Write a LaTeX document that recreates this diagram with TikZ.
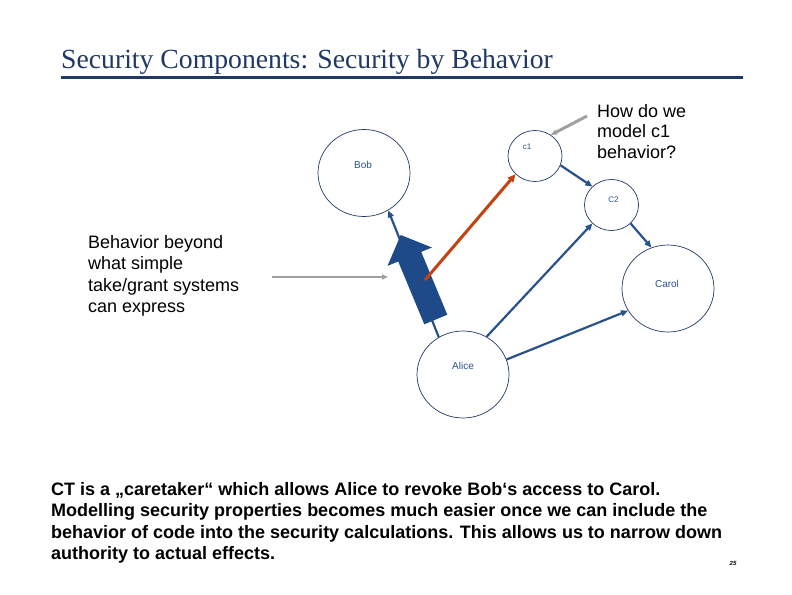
\documentclass[tikz,border=0pt]{standalone}
\usepackage{fontspec}
\setmainfont{Liberation Sans}
\newfontfamily\titlefont{Liberation Serif}
\usetikzlibrary{arrows.meta,shapes.geometric}
\definecolor{navy}{RGB}{31,56,100}
\definecolor{linkblue}{RGB}{40,82,142}
\definecolor{blockblue}{RGB}{30,74,138}
\definecolor{redlink}{RGB}{196,66,18}
\definecolor{pointgray}{RGB}{160,160,160}
\begin{document}
\begin{tikzpicture}[x=1pt,y=-1pt,
  party/.style={ellipse,draw=navy,line width=0.7pt,inner sep=0pt},
  big/.style={minimum width=92pt,minimum height=87pt},
  small/.style={minimum width=54pt,minimum height=51pt},
  lbl/.style={font=\fontsize{10}{12}\selectfont,text=linkblue},
  slbl/.style={font=\fontsize{8}{10}\selectfont,text=linkblue},
  link/.style={draw=linkblue,line width=2.2pt,-{Triangle[length=7pt,width=6pt]}},
  hint/.style={draw=pointgray,-{Triangle[length=6pt,width=5pt]}},
  note/.style={align=left,anchor=base west,inner sep=0pt}]
\useasboundingbox (0,0) rectangle (792,594);
\node[anchor=base west,inner sep=0pt,text=navy,font=\titlefont\fontsize{27.7}{30}\selectfont] (title) at (61,68) {Security Components: Security by Behavior};
\coordinate (rulel) at (61,77.5);
\coordinate (ruler) at (743,77.5);
\draw[navy,line width=3pt] (rulel) -- (ruler);
\node[party,big,label={[lbl,xshift=-1pt,yshift=8pt]center:Bob}] (bob) at (364,173) {};
\node[party,small,label={[slbl,xshift=-8pt,yshift=9pt]center:c1}] (c1) at (535,156) {};
\node[party,small,label={[slbl,xshift=2pt,yshift=5pt]center:C2}] (c2) at (611.5,205) {};
\node[party,big,label={[lbl,xshift=-1pt,yshift=4.5pt]center:Carol}] (carol) at (668,288.5) {};
\node[party,big,label={[lbl,yshift=8.5pt]center:Alice}] (alice) at (463,374.5) {};
\draw[link] (alice.123) -- (bob.-57);
\draw[link] (c1.-20) -- (c2.136);
\draw[link] (c2.-44) -- (carol.112);
\draw[link] (alice.58) -- (c2.224);
\draw[link] (alice.19) -- (carol.209.5);
\fill[blockblue] (424.3,324.3) -- (447.3,314.7) -- (421.2,251.9) -- (431.9,247.5) -- (400.7,235) -- (387.5,265.9) -- (398.2,261.5) -- cycle;
\coordinate (grip) at (425,280);
\draw[redlink,line width=3pt,-{Triangle[length=8pt,width=7pt]}] (grip) -- (c1.223);
\node[note,font=\fontsize{18}{20.5}\selectfont] (question) at (597,158) {How do we\\model c1\\behavior?};
\coordinate (qtail) at (587,116);
\draw[hint,line width=3pt] (qtail) -- (c1.53);
\node[note,font=\fontsize{18}{21.5}\selectfont] (beyond) at (88,312.5) {Behavior beyond\\what simple\\take/grant systems\\can express};
\coordinate (btail) at (272,277);
\coordinate (bhead) at (388,277);
\draw[hint,line width=2pt] (btail) -- (bhead);
\node[note,font=\bfseries\fontsize{18}{21.5}\selectfont] (summary) at (51,559.5) {CT is a „caretaker“ which allows Alice to revoke Bob‘s access to Carol.\\Modelling security properties becomes much easier once we can include the\\behavior of code into the security calculations. This allows us to narrow down\\authority to actual effects.};
\node[anchor=base,inner sep=0pt,font=\bfseries\itshape\fontsize{6}{7}\selectfont] (page) at (733,565) {25};
\end{tikzpicture}
\end{document}
